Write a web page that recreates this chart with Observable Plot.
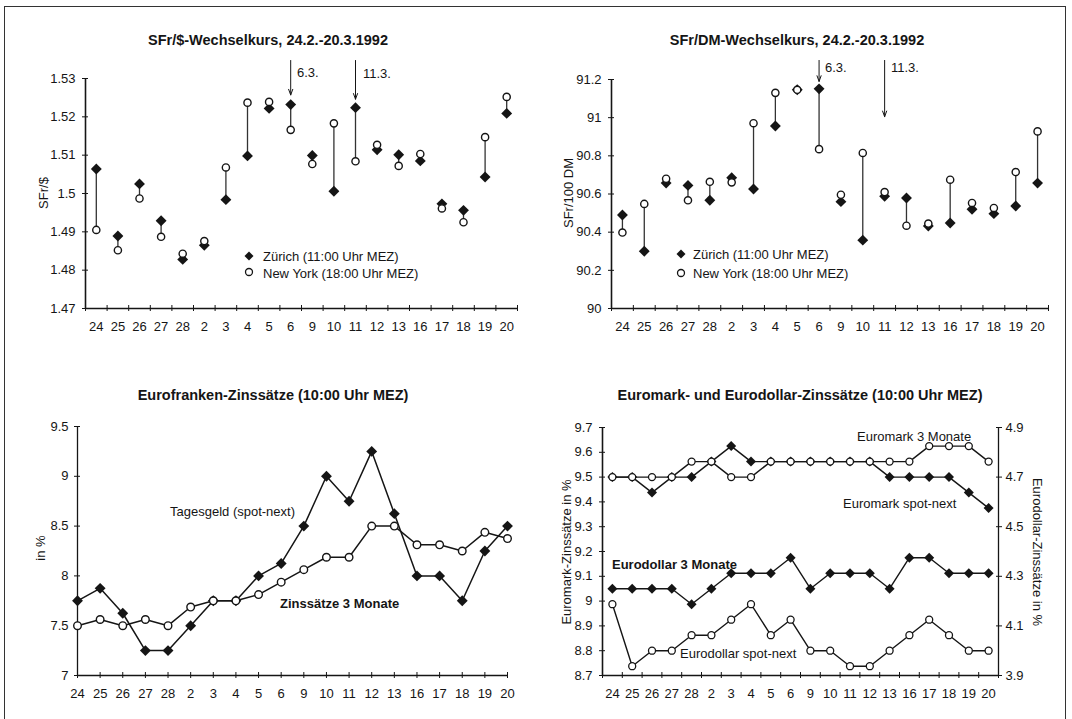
<!DOCTYPE html>
<html>
<head>
<meta charset="utf-8">
<script src="https://cdn.jsdelivr.net/npm/d3@7"></script>
<script src="https://cdn.jsdelivr.net/npm/@observablehq/plot@0.6"></script>
<style>
  body { margin: 0; background: #fff; }
  #fig { position: relative; width: 1072px; height: 719px; overflow: hidden; background: #fff;
         font-family: "Liberation Sans", Arial, sans-serif; color: #151515; }
  #fig svg { position: absolute; overflow: visible; background: transparent; }
  .lbl { position: absolute; white-space: nowrap; font-size: 13px; line-height: 15px; }
  .ttl { position: absolute; white-space: nowrap; font-size: 14.5px; font-weight: bold; line-height: 17px; transform: translate(-50%, -50%); }
  .border { position: absolute; left: 4px; top: 6px; width: 1062px; height: 800px; border: 1.5px solid #333; box-sizing: border-box; }
</style>
</head>
<body>
<div id="fig"><div class="border"></div></div>
<script>
// ---------- data ----------
const days = ["24","25","26","27","28","2","3","4","5","6","9","10","11","12","13","16","17","18","19","20"];

// SFr/$ exchange rate
const usdZurich  = [1.5064,1.4889,1.5025,1.4929,1.4828,1.4865,1.4984,1.5098,1.5222,1.5232,1.5099,1.5006,1.5224,1.5114,1.5101,1.5085,1.4973,1.4956,1.5043,1.5209];
const usdNewYork = [1.4905,1.4852,1.4987,1.4887,1.4843,1.4876,1.5068,1.5237,1.5239,1.5166,1.5077,1.5183,1.5084,1.5127,1.5072,1.5103,1.4961,1.4925,1.5147,1.5252];
const usdTicks = [1.47,1.48,1.49,1.5,1.51,1.52,1.53];

// SFr/100 DM exchange rate
const dmZurich  = [90.49,90.30,90.657,90.645,90.567,90.685,90.626,90.956,91.146,91.151,90.56,90.358,90.588,90.579,90.432,90.448,90.52,90.497,90.537,90.657];
const dmNewYork = [90.398,90.548,90.68,90.567,90.664,90.661,90.971,91.13,91.146,90.835,90.596,90.815,90.61,90.434,90.445,90.675,90.553,90.527,90.715,90.928];
const dmTicks = [90,90.2,90.4,90.6,90.8,91,91.2];

// event arrows (6.3. and 11.3.)
const eventDays   = ["6","11"];
const eventLabels = ["6.3.","11.3."];
const usdArrowFrom = [1.5347,1.5347];
const usdArrowTo   = [1.5257,1.5246];
const dmArrowFrom  = [91.30,91.30];
const dmArrowTo    = [91.19,91.005];

// Eurofranken rates
const chfOvernight = [7.75,7.875,7.625,7.25,7.25,7.5,7.75,7.75,8.0,8.125,8.5,9.0,8.75,9.25,8.625,8.0,8.0,7.75,8.25,8.5];
const chf3m        = [7.5,7.5625,7.5,7.5625,7.5,7.6875,7.75,7.75,7.8125,7.9375,8.0625,8.1875,8.1875,8.5,8.5,8.3125,8.3125,8.25,8.4375,8.375];
const chfTicks = [7,7.5,8,8.5,9,9.5];

// Euromark (left axis) and Eurodollar (right axis) rates
const dem3m        = [9.5,9.5,9.5,9.5,9.5625,9.5625,9.5,9.5,9.5625,9.5625,9.5625,9.5625,9.5625,9.5625,9.5625,9.5625,9.625,9.625,9.625,9.5625];
const demOvernight = [9.5,9.5,9.4375,9.5,9.5,9.5625,9.625,9.5625,9.5625,9.5625,9.5625,9.5625,9.5625,9.5625,9.5,9.5,9.5,9.5,9.4375,9.375];
const usd3m        = [4.25,4.25,4.25,4.25,4.1875,4.25,4.3125,4.3125,4.3125,4.375,4.25,4.3125,4.3125,4.3125,4.25,4.375,4.375,4.3125,4.3125,4.3125];
const usdOvernight = [4.1875,3.9375,4.0,4.0,4.0625,4.0625,4.125,4.1875,4.0625,4.125,4.0,4.0,3.9375,3.9375,4.0,4.0625,4.125,4.0625,4.0,4.0];
const demTicks = [8.7,8.8,8.9,9,9.1,9.2,9.3,9.4,9.5,9.6,9.7];
const usdRateTicks = [3.9,4.1,4.3,4.5,4.7,4.9];
const rightAxisOffset = 4.8; // right axis value + offset = left axis value

// ---------- helpers ----------
const fig = document.getElementById("fig");
const idx = d3.range(days.length);
const INK = "#151515";
const DIAMOND = d3.symbolDiamond2;
const fmt = d => String(+(+d).toFixed(3));

function place(svg, left, top) {
  svg.style.left = left + "px";
  svg.style.top = top + "px";
  fig.appendChild(svg);
}
function text(str, x, y, cls = "lbl", extra = {}) {
  const el = document.createElement("div");
  el.className = cls;
  el.textContent = str;
  el.style.left = x + "px";
  el.style.top = y + "px";
  if (cls === "lbl") el.style.transform = extra.transform || "translate(0,-50%)";
  if (extra.weight) el.style.fontWeight = extra.weight;
  fig.appendChild(el);
  return el;
}
function vlabel(str, x, y, deg) {
  return text(str, x, y, "lbl", {transform: `translate(-50%,-50%) rotate(${deg}deg)`});
}
function symbolSvg(kind, x, y) {
  const s = d3.create("svg").attr("width", 12).attr("height", 12)
    .style("left", (x - 6) + "px").style("top", (y - 6) + "px");
  if (kind === "diamond") s.append("path").attr("d", "M6,1.5L10.5,6L6,10.5L1.5,6Z").attr("fill", INK);
  else s.append("circle").attr("cx", 6).attr("cy", 6).attr("r", 3.5).attr("fill", "#fff").attr("stroke", INK).attr("stroke-width", 1.3);
  fig.appendChild(s.node());
}

const style = {fontFamily: "'Liberation Sans', Arial, sans-serif", fontSize: "13px", color: INK, background: "transparent", overflow: "visible"};

function bandAxes(yTicks, yMin, opts = {}) {
  const n = days.length;
  return [
    Plot.ruleY([yMin], {stroke: INK, strokeWidth: 1.3}),
    Plot.ruleX([-0.5], {stroke: INK, strokeWidth: 1.6}),
    Plot.axisX({ticks: idx, tickSize: 0, tickPadding: 13, tickFormat: i => days[i], label: null, fontSize: 13}),
    Plot.axisX({ticks: d3.range(n + 1).map(i => i - 0.5), tickSize: 6, dy: -3, tickFormat: () => "", label: null, stroke: INK}),
    Plot.axisY({ticks: yTicks, tickSize: 6, dx: 3, tickPadding: 7, tickFormat: opts.format || fmt, label: null, fontSize: 13, stroke: INK})
  ];
}

// ---------- panel 1: SFr/$ ----------
{
  const svg = Plot.plot({
    width: 536, height: 350,
    marginLeft: 85, marginRight: 19, marginTop: 78, marginBottom: 42,
    style,
    x: {type: "linear", domain: [-0.5, 19.5]},
    y: {domain: [1.47, 1.53]},
    marks: [
      ...bandAxes(usdTicks, 1.47),
      Plot.ruleX(idx, {x: i => i, y1: i => usdZurich[i], y2: i => usdNewYork[i], stroke: "#333", strokeWidth: 1.3}),
      Plot.dot(idx, {x: i => i, y: i => usdZurich[i], symbol: DIAMOND, r: 4.9, fill: INK}),
      Plot.dot(idx, {x: i => i, y: i => usdNewYork[i], r: 3.6, fill: "#fff", stroke: INK, strokeWidth: 1.4}),
      Plot.arrow(eventDays, {x1: d => days.indexOf(d), x2: d => days.indexOf(d), y1: (d, j) => usdArrowFrom[j], y2: (d, j) => usdArrowTo[j], stroke: INK, strokeWidth: 1, headLength: 9, headAngle: 40})
    ]
  });
  place(svg, 0, 0);
  text("SFr/$-Wechselkurs, 24.2.-20.3.1992", 268, 40, "ttl");
  vlabel("SFr/$", 43, 193, -90);
  text(eventLabels[0], 297, 72);
  text(eventLabels[1], 363, 73);
  symbolSvg("diamond", 249, 256);
  symbolSvg("circle", 249, 272);
  text("Zürich (11:00 Uhr MEZ)", 263, 256);
  text("New York (18:00 Uhr MEZ)", 263, 273);
}

// ---------- panel 2: SFr/100 DM ----------
{
  const svg = Plot.plot({
    width: 536, height: 350,
    marginLeft: 75, marginRight: 24, marginTop: 79, marginBottom: 42,
    style,
    x: {type: "linear", domain: [-0.5, 19.5]},
    y: {domain: [90, 91.2]},
    marks: [
      ...bandAxes(dmTicks, 90),
      Plot.ruleX(idx, {x: i => i, y1: i => dmZurich[i], y2: i => dmNewYork[i], stroke: "#333", strokeWidth: 1.3}),
      Plot.dot(idx, {x: i => i, y: i => dmZurich[i], symbol: DIAMOND, r: 4.9, fill: INK}),
      Plot.dot(idx, {x: i => i, y: i => dmNewYork[i], r: 3.6, fill: "#fff", stroke: INK, strokeWidth: 1.4}),
      Plot.arrow(eventDays, {x1: d => days.indexOf(d), x2: d => days.indexOf(d), y1: (d, j) => dmArrowFrom[j], y2: (d, j) => dmArrowTo[j], stroke: INK, strokeWidth: 1, headLength: 9, headAngle: 40})
    ]
  });
  place(svg, 536, 0);
  text("SFr/DM-Wechselkurs, 24.2.-20.3.1992", 797, 40, "ttl");
  vlabel("SFr/100 DM", 568, 193, -90);
  text(eventLabels[0], 825, 67);
  text(eventLabels[1], 891, 67);
  symbolSvg("diamond", 681, 254);
  symbolSvg("circle", 681, 273);
  text("Zürich (11:00 Uhr MEZ)", 693, 254);
  text("New York (18:00 Uhr MEZ)", 693, 273);
}

// ---------- panel 3: Eurofranken ----------
{
  const svg = Plot.plot({
    width: 536, height: 359,
    marginLeft: 77, marginRight: 29, marginTop: 66, marginBottom: 44,
    style,
    x: {type: "linear", domain: [0, 19]},
    y: {domain: [7, 9.5]},
    marks: [
      Plot.ruleY([7], {stroke: INK, strokeWidth: 1.3}),
      Plot.ruleX([0], {stroke: INK, strokeWidth: 1.3}),
      Plot.axisX({ticks: idx, tickSize: 0, tickPadding: 13, tickFormat: i => days[i], label: null, fontSize: 13}),
      Plot.axisX({ticks: idx, tickSize: 6, dy: -3, tickFormat: () => "", label: null, stroke: INK}),
      Plot.axisY({ticks: chfTicks, tickSize: 6, dx: 3, tickPadding: 6, tickFormat: fmt, label: null, fontSize: 13, stroke: INK}),
      Plot.line(idx, {x: i => i, y: i => chf3m[i], stroke: INK, strokeWidth: 1.5}),
      Plot.line(idx, {x: i => i, y: i => chfOvernight[i], stroke: INK, strokeWidth: 1.5}),
      Plot.dot(idx, {x: i => i, y: i => chfOvernight[i], symbol: DIAMOND, r: 4.9, fill: INK}),
      Plot.dot(idx, {x: i => i, y: i => chf3m[i], r: 3.8, fill: "#fff", stroke: INK, strokeWidth: 1.4})
    ]
  });
  place(svg, 0, 360);
  text("Eurofranken-Zinssätze (10:00 Uhr MEZ)", 273, 395, "ttl");
  vlabel("in %", 40, 548, -90);
  text("Tagesgeld (spot-next)", 170, 511);
  text("Zinssätze 3 Monate", 280, 603, "lbl", {weight: "bold"});
}

// ---------- panel 4: Euromark / Eurodollar ----------
{
  const svg = Plot.plot({
    width: 536, height: 359,
    marginLeft: 66, marginRight: 74, marginTop: 67, marginBottom: 44,
    style,
    x: {type: "linear", domain: [-0.5, 19.5]},
    y: {domain: [8.7, 9.7]},
    marks: [
      ...bandAxes(demTicks, 8.7),
      Plot.ruleX([19.5], {stroke: INK, strokeWidth: 1.3}),
      Plot.axisY({anchor: "right", ticks: usdRateTicks.map(v => v + rightAxisOffset), tickSize: 6, dx: -3, tickPadding: 4,
                  tickFormat: d => (d - rightAxisOffset).toFixed(1), label: null, fontSize: 13, stroke: INK}),
      Plot.line(idx, {x: i => i, y: i => dem3m[i], stroke: INK, strokeWidth: 1.4}),
      Plot.line(idx, {x: i => i, y: i => demOvernight[i], stroke: INK, strokeWidth: 1.4}),
      Plot.line(idx, {x: i => i, y: i => usd3m[i] + rightAxisOffset, stroke: INK, strokeWidth: 1.4}),
      Plot.line(idx, {x: i => i, y: i => usdOvernight[i] + rightAxisOffset, stroke: INK, strokeWidth: 1.4}),
      Plot.dot(idx, {x: i => i, y: i => demOvernight[i], symbol: DIAMOND, r: 4.5, fill: INK}),
      Plot.dot(idx, {x: i => i, y: i => dem3m[i], r: 3.5, fill: "#fff", stroke: INK, strokeWidth: 1.3}),
      Plot.dot(idx, {x: i => i, y: i => usd3m[i] + rightAxisOffset, symbol: DIAMOND, r: 4.5, fill: INK}),
      Plot.dot(idx, {x: i => i, y: i => usdOvernight[i] + rightAxisOffset, r: 3.5, fill: "#fff", stroke: INK, strokeWidth: 1.3})
    ]
  });
  place(svg, 536, 360);
  text("Euromark- und Eurodollar-Zinssätze (10:00 Uhr MEZ)", 800, 395, "ttl");
  vlabel("Euromark-Zinssätze in %", 566, 552, -90);
  vlabel("Eurodollar-Zinssätze in %", 1037, 552, 90);
  text("Euromark 3 Monate", 857, 436);
  text("Euromark spot-next", 843, 503);
  text("Eurodollar 3 Monate", 612, 564, "lbl", {weight: "bold"});
  text("Eurodollar spot-next", 680, 653);
}
</script>
</body>
</html>
